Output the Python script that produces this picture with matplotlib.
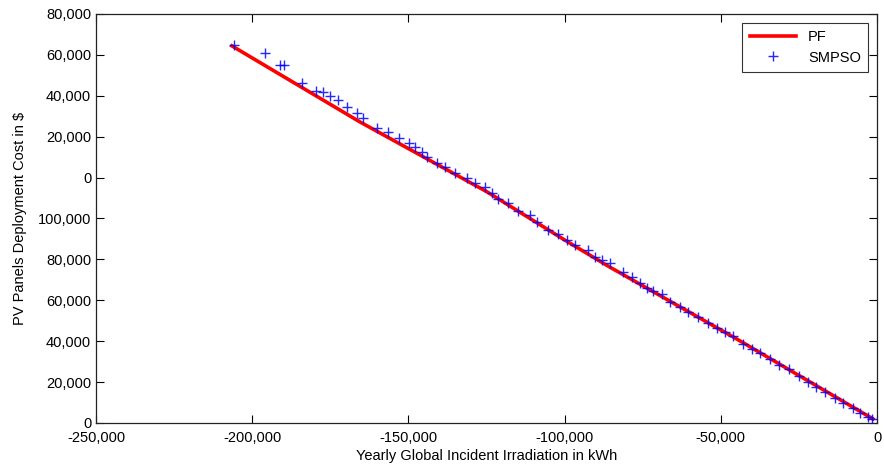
import matplotlib
matplotlib.use('Agg')
import matplotlib.pyplot as plt

plt.rcParams['font.family'] = ['Liberation Sans', 'DejaVu Sans']

# Pareto front (PF) and SMPSO solutions
pf_x = [-206500, -165500, -124800, -99900, -85500, -45500, -1300]
pf_y = [184400, 147200, 113000, 89400, 76200, 41600, 2000]

smpso_x = [-205800, -195900, -191100, -189800, -184100, -179600, -177300, -175100,
           -172500, -169700, -166500, -164500, -160100, -156500, -153000, -149800,
           -147900, -145600, -144000, -140800, -138300, -135100, -131200, -128700,
           -125500, -123200, -121300, -118100, -114900, -111100, -108800, -105300,
           -102100, -99200, -96700, -92500, -90300, -88000, -85500, -81300,
           -78400, -75900, -73600, -71700, -68800, -66300, -63100, -60500,
           -57300, -54100, -51200, -48700, -46100, -42900, -40000, -37500,
           -34300, -31400, -28200, -25000, -22100, -19500, -16600, -13400,
           -10900, -7700, -5400, -2900, -1600]
smpso_y = [184800, 180900, 175100, 175100, 166300, 162300, 161900, 159900,
           157900, 154500, 151600, 149100, 144300, 142300, 139400, 136900,
           135000, 132500, 130100, 127100, 125200, 122300, 119800, 117400,
           115400, 112500, 109500, 107600, 103700, 101700, 98300, 94400,
           92400, 89500, 87000, 84600, 81200, 79700, 78200, 73800,
           71400, 68500, 66000, 64500, 63100, 59200, 56700, 54300,
           51800, 48900, 46500, 44500, 42500, 38600, 36200, 34200,
           31300, 28400, 26400, 23000, 20000, 17600, 15200, 12200,
           9800, 7300, 4900, 2900, 2000]

x_ticks = [-250000, -200000, -150000, -100000, -50000, 0]
x_tick_labels = ['-250,000', '-200,000', '-150,000', '-100,000', '-50,000', '0']
y_ticks = [0, 20000, 40000, 60000, 80000, 100000, 120000, 140000, 160000, 180000, 200000]
y_tick_labels = ['0', '20,000', '40,000', '60,000', '80,000', '100,000',
                 '0', '20,000', '40,000', '60,000', '80,000']

fig = plt.figure(figsize=(8.84, 4.69), dpi=100)
ax = fig.add_axes([0.1086, 0.0981, 0.8835, 0.8721])

ax.plot(pf_x, pf_y, color='red', linewidth=2.6, label='PF', zorder=2)
ax.plot(smpso_x, smpso_y, linestyle='none', marker='+', color='blue',
        markersize=7, markeredgewidth=1.0, alpha=0.85, label='SMPSO', zorder=3)

ax.set_xlim(-250000, 0)
ax.set_ylim(0, 200000)
ax.set_xticks(x_ticks)
ax.set_xticklabels(x_tick_labels)
ax.set_yticks(y_ticks)
ax.set_yticklabels(y_tick_labels)
ax.tick_params(direction='in', top=True, right=True, length=5.5, width=0.8,
               labelsize=10.5, colors='black')
ax.tick_params(axis='x', pad=6)
for sp in ax.spines.values():
    sp.set_linewidth(0.9)
    sp.set_color('#222222')

ax.set_xlabel('Yearly Global Incident Irradiation in kWh', fontsize=10.5, labelpad=3)
ax.set_ylabel(r'PV Panels Deployment Cost in \$', fontsize=10.5, labelpad=8)

leg = ax.legend(loc='upper right', fontsize=10.5, frameon=True, fancybox=False,
                edgecolor='black', borderaxespad=0.6, handlelength=3.2,
                borderpad=0.5, labelspacing=0.45)
leg.get_frame().set_linewidth(0.8)

plt.savefig('out.png', dpi=100)
